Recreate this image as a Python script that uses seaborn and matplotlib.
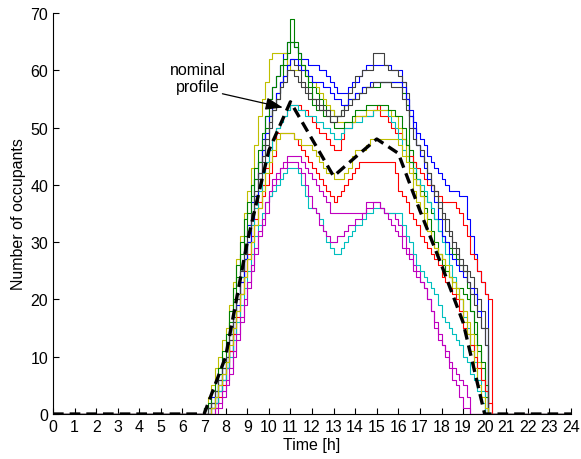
import pandas as pd
import seaborn as sns
import matplotlib.pyplot as plt

sns.set_style("ticks")
plt.rcParams['font.family'] = ['Liberation Sans', 'DejaVu Sans']
plt.rcParams['text.color'] = 'black'
plt.rcParams['axes.labelcolor'] = 'black'

# simulated occupants, one value per 10 minutes starting at 7:00 (list ends with the drop to 0)
t_start = 7.0
step_h = 1 / 6

blue_a = [1, 1, 3, 4, 6, 8, 10, 14, 18, 21, 25, 29, 33, 37, 41, 44, 48, 52,
          55, 57, 59, 61, 63, 65, 65, 64, 63, 62, 62, 61, 61, 61, 60, 60, 59, 58,
          57, 56, 56, 56, 57, 58, 58, 59, 60, 61, 61, 61, 61, 61, 61, 61, 60, 60,
          60, 58, 55, 53, 51, 49, 48, 47, 45, 44, 43, 42, 41, 40, 39, 39, 39, 38,
          38, 34, 31, 28, 25, 23, 21, 0]
green_a = [0, 1, 2, 4, 7, 9, 12, 16, 20, 24, 28, 31, 35, 38, 41, 44, 47, 50,
           52, 54, 56, 58, 61, 65, 69, 65, 63, 61, 60, 58, 57, 56, 55, 54, 53, 53,
           52, 52, 53, 54, 55, 55, 56, 56, 57, 57, 57, 57, 57, 58, 58, 58, 58, 58,
           58, 56, 54, 46, 44, 41, 39, 38, 37, 35, 34, 32, 31, 30, 29, 28, 27, 26,
           25, 22, 18, 14, 11, 8, 3, 0]
red_a = [0, 0, 0, 1, 3, 5, 8, 11, 14, 18, 21, 25, 28, 31, 34, 37, 40, 43,
         46, 48, 50, 51, 52, 53, 54, 54, 54, 53, 53, 52, 51, 50, 49, 49, 48, 47,
         46, 46, 48, 50, 50, 51, 52, 52, 52, 52, 52, 53, 54, 52, 52, 51, 50, 49,
         49, 48, 47, 45, 44, 43, 42, 41, 40, 40, 39, 38, 37, 37, 37, 37, 36, 35,
         33, 31, 28, 27, 25, 23, 21, 20, 0]
cyan_a = [0, 1, 2, 3, 5, 8, 10, 13, 17, 20, 24, 27, 30, 33, 36, 39, 42, 44,
          46, 48, 50, 51, 52, 53, 54, 54, 53, 53, 52, 52, 52, 51, 51, 50, 50, 49,
          48, 48, 49, 50, 50, 51, 51, 51, 52, 52, 52, 53, 53, 53, 53, 52, 51, 50,
          48, 46, 45, 44, 43, 41, 40, 39, 37, 36, 34, 32, 30, 28, 26, 24, 22, 20,
          17, 15, 12, 9, 6, 4, 0]
magenta_a = [0, 0, 0, 0, 1, 3, 5, 7, 10, 13, 16, 19, 22, 25, 28, 31, 33, 35,
             38, 40, 41, 43, 44, 45, 45, 45, 45, 44, 43, 42, 41, 40, 39, 38, 37, 35,
             35, 35, 35, 35, 35, 35, 35, 35, 35, 37, 37, 37, 37, 36, 35, 35, 35, 34,
             33, 31, 29, 28, 26, 25, 23, 22, 20, 18, 15, 13, 12, 10, 8, 6, 5, 3,
             1, 1, 0]
yellow_a = [1, 3, 5, 8, 10, 13, 15, 19, 23, 27, 31, 35, 39, 43, 47, 52, 55, 58,
            62, 63, 63, 63, 63, 61, 60, 60, 60, 60, 59, 59, 58, 57, 56, 55, 54, 53,
            52, 51, 51, 51, 51, 51, 52, 52, 52, 53, 53, 53, 53, 53, 53, 53, 52, 52,
            50, 48, 45, 42, 39, 37, 35, 33, 32, 30, 29, 28, 27, 25, 24, 22, 21, 20,
            18, 16, 14, 12, 9, 6, 4, 0]
gray_a = [0, 0, 1, 3, 5, 7, 9, 13, 16, 20, 23, 27, 30, 34, 37, 41, 44, 47,
          50, 53, 55, 58, 59, 61, 62, 61, 60, 58, 57, 56, 55, 55, 54, 53, 53, 52,
          52, 52, 53, 54, 56, 57, 59, 59, 60, 60, 60, 63, 63, 63, 61, 60, 60, 60,
          59, 58, 56, 52, 50, 47, 45, 44, 42, 40, 39, 37, 35, 34, 32, 30, 29, 27,
          26, 25, 24, 22, 20, 18, 15, 0]
blue_b = [0, 0, 1, 2, 4, 6, 8, 11, 15, 19, 23, 27, 30, 34, 38, 42, 46, 49,
          52, 54, 56, 58, 59, 61, 62, 62, 61, 60, 60, 59, 58, 58, 58, 57, 57, 56,
          55, 55, 54, 54, 55, 55, 56, 56, 57, 57, 58, 58, 58, 58, 58, 58, 58, 58,
          58, 57, 55, 52, 50, 47, 45, 43, 41, 39, 37, 34, 31, 30, 28, 27, 26, 25,
          24, 23, 22, 21, 18, 15, 12, 0]
green_b = [1, 2, 4, 6, 8, 11, 14, 18, 22, 26, 30, 34, 37, 40, 43, 46, 49, 52,
           55, 57, 59, 61, 62, 63, 65, 64, 62, 61, 59, 57, 54, 53, 53, 52, 52, 51,
           50, 50, 50, 51, 51, 52, 53, 53, 53, 54, 54, 54, 54, 54, 54, 53, 53, 52,
           52, 50, 47, 44, 42, 40, 38, 36, 34, 32, 30, 28, 26, 25, 24, 23, 22, 22,
           21, 20, 18, 16, 12, 9, 5, 0]
red_b = [0, 0, 1, 2, 4, 6, 8, 11, 14, 17, 21, 24, 27, 30, 33, 36, 38, 40,
         42, 45, 49, 49, 49, 49, 49, 48, 47, 46, 45, 44, 43, 42, 41, 40, 39, 38,
         37, 38, 39, 40, 41, 42, 43, 44, 44, 44, 44, 44, 44, 44, 44, 44, 44, 42,
         39, 38, 37, 35, 34, 33, 31, 30, 29, 28, 27, 26, 24, 23, 22, 21, 20, 18,
         15, 14, 12, 10, 8, 6, 4, 2, 0]
cyan_b = [0, 0, 1, 2, 4, 6, 8, 10, 13, 16, 19, 22, 25, 28, 31, 33, 35, 37,
          38, 39, 40, 41, 42, 43, 43, 43, 42, 40, 38, 36, 36, 35, 34, 32, 30, 29,
          28, 28, 29, 30, 31, 32, 33, 33, 34, 35, 35, 36, 36, 36, 35, 35, 35, 35,
          35, 33, 31, 30, 28, 26, 25, 24, 23, 22, 21, 19, 17, 16, 15, 14, 13, 12,
          10, 9, 7, 6, 4, 2, 0]
magenta_b = [0, 0, 0, 1, 2, 4, 6, 8, 11, 14, 17, 20, 23, 26, 29, 32, 34, 37,
             39, 41, 42, 43, 43, 44, 44, 44, 43, 42, 40, 38, 36, 35, 33, 32, 31, 30,
             30, 31, 31, 32, 33, 33, 34, 34, 35, 36, 36, 37, 37, 36, 35, 34, 33, 32,
             31, 29, 28, 27, 25, 24, 23, 22, 20, 18, 16, 14, 12, 11, 9, 8, 7, 6,
             5, 3, 0]
gray_b = [0, 1, 2, 4, 6, 8, 10, 14, 17, 21, 25, 28, 32, 35, 39, 42, 45, 48,
          51, 53, 55, 57, 58, 60, 60, 59, 58, 57, 56, 55, 55, 54, 53, 53, 52, 51,
          51, 52, 52, 53, 54, 55, 55, 56, 56, 57, 57, 58, 58, 58, 58, 58, 57, 57,
          57, 55, 53, 50, 48, 47, 46, 44, 42, 40, 38, 36, 34, 32, 31, 29, 28, 26,
          25, 23, 21, 19, 17, 15, 12, 0]
yellow_b = [0, 0, 1, 3, 5, 7, 9, 12, 15, 18, 21, 24, 27, 30, 33, 36, 39, 42,
            44, 46, 48, 49, 49, 49, 49, 48, 48, 47, 47, 47, 46, 45, 44, 43, 42, 42,
            41, 41, 41, 42, 43, 45, 46, 46, 46, 47, 48, 48, 48, 48, 48, 48, 48, 48,
            47, 45, 44, 43, 41, 40, 38, 35, 32, 30, 29, 28, 27, 26, 24, 23, 22, 20,
            16, 14, 11, 8, 5, 3, 1, 0]

runs = [("run 1", blue_a, "b"), ("run 2", green_a, "g"), ("run 3", red_a, "r"),
        ("run 4", cyan_a, "c"), ("run 5", magenta_a, "m"), ("run 6", yellow_a, "y"),
        ("run 7", gray_a, "k"), ("run 8", blue_b, "b"), ("run 9", green_b, "g"),
        ("run 10", red_b, "r"), ("run 11", cyan_b, "c"), ("run 12", magenta_b, "m"),
        ("run 13", gray_b, "k"), ("run 14", yellow_b, "y")]

# old matlab line colours
matlab = {"b": (0, 0, 1), "g": (0, 0.5, 0), "r": (1, 0, 0), "c": (0, 0.75, 0.75),
          "m": (0.75, 0, 0.75), "y": (0.75, 0.75, 0), "k": (0.25, 0.25, 0.25)}

nominal_t = [0, 7, 8, 9, 10, 11, 12, 13, 14, 15, 16, 17, 18, 19, 20, 24]
nominal_v = [0, 0, 10, 30, 46, 54.5, 48, 41.5, 44.8, 48, 45.5, 35.5, 26, 16, 0, 0]

frames = []
for name, vals, c in runs:
    t = [0] + [t_start + i * step_h for i in range(len(vals))] + [24]
    frames.append(pd.DataFrame({"time": t, "occupants": [0] + vals + [0], "run": name}))
df = pd.concat(frames, ignore_index=True)
palette = {name: matlab[c] for name, _, c in runs}
df_nom = pd.DataFrame({"time": nominal_t, "occupants": nominal_v})

fig = plt.figure(figsize=(5.81, 4.60), dpi=100)
ax = fig.add_axes([0.0912, 0.0978, 0.8916, 0.8718])

sns.lineplot(data=df, x="time", y="occupants", hue="run", palette=palette,
             estimator=None, sort=False, drawstyle="steps-post", linewidth=0.8,
             legend=False, ax=ax)
sns.lineplot(data=df_nom, x="time", y="occupants", color="black", estimator=None,
             sort=False, linewidth=2.4, linestyle=(0, (3.2, 1.8)), ax=ax)

fs = 11.5
ax.text(6.7, 58.6, "nominal\nprofile", ha="center", va="center", fontsize=fs, color="black")
ax.annotate("", xy=(10.65, 53.5), xytext=(7.85, 55.9),
            arrowprops=dict(arrowstyle="-|>,head_length=0.7,head_width=0.25",
                            color="black", lw=0.9, mutation_scale=15,
                            shrinkA=0, shrinkB=0))

ax.set_xlim(0, 24)
ax.set_ylim(0, 70)
ax.set_xticks(range(0, 25))
ax.set_yticks(range(0, 71, 10))
ax.set_xlabel("Time [h]", fontsize=fs, labelpad=2, color="black")
ax.set_ylabel("Number of occupants", fontsize=fs, labelpad=3, color="black")
ax.tick_params(direction="in", length=4, width=0.8, labelsize=fs, pad=3.5, colors="black")
sns.despine(ax=ax)
for s in ["left", "bottom"]:
    ax.spines[s].set_linewidth(0.8)
    ax.spines[s].set_color("black")

fig.savefig("out.png", dpi=100)
